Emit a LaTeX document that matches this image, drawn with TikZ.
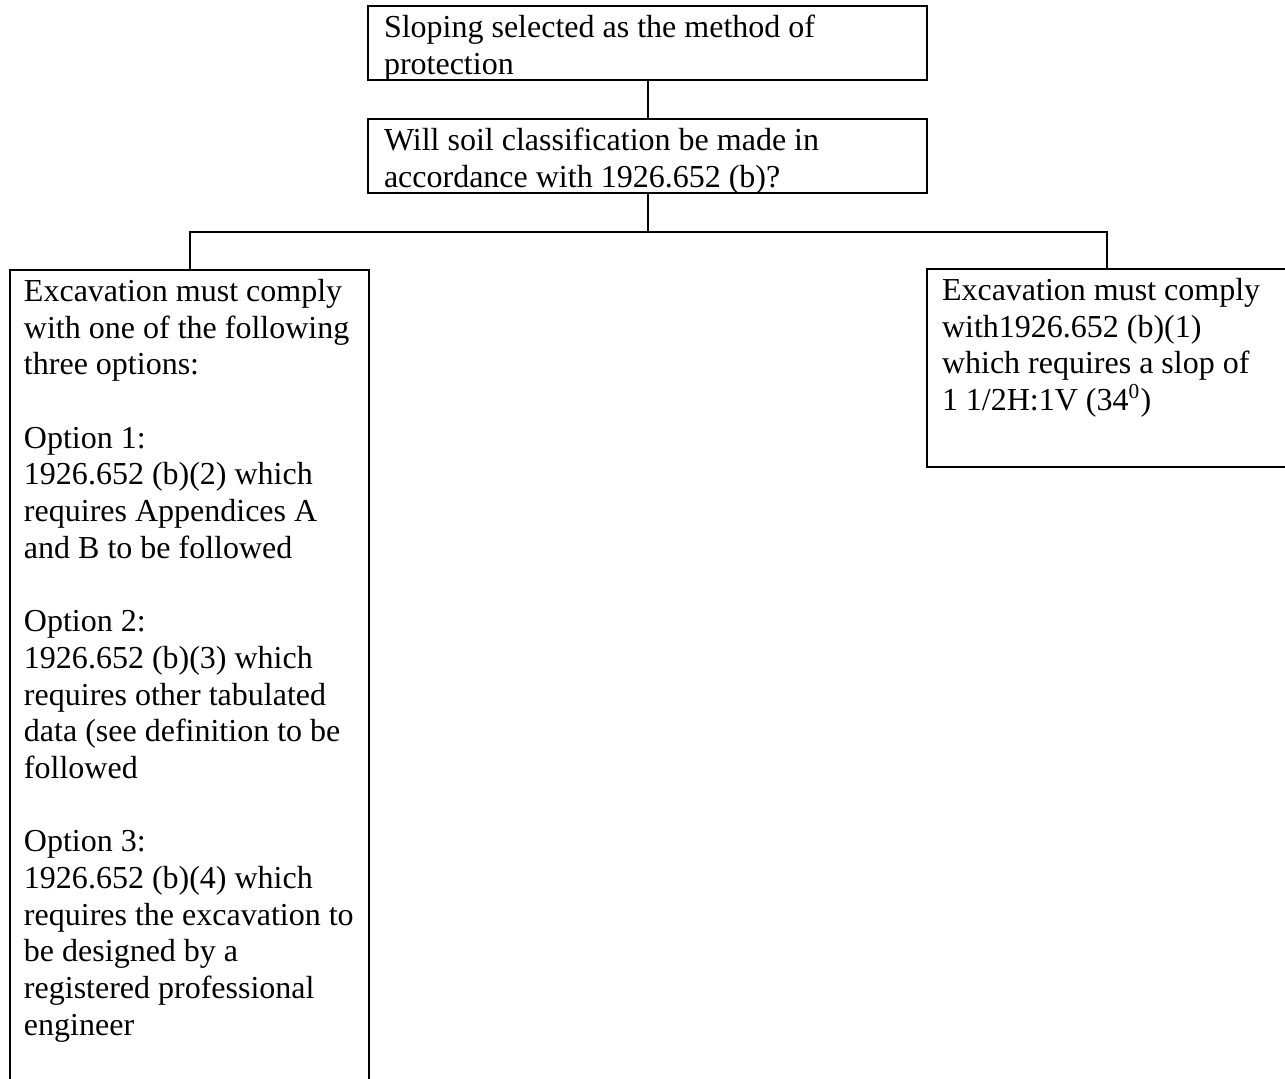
\documentclass[tikz,border=0pt]{standalone}
\usepackage{fontspec}
\setmainfont{Liberation Serif}
\newlength\px
\setlength\px{0.375pt}
% #1 width, #2 height, #3 left padding (all in px), #4 content
\newcommand\boxtext[4]{%
  \parbox[t][#2\px][t]{#1\px}{\raggedright\setlength\leftskip{#3\px}%
    \fontsize{12pt}{13.76pt}\selectfont\rule{0pt}{31.5\px}#4}}
\tikzset{
  flowbox/.style={draw, line width=0.75pt, inner sep=0pt, outer sep=0pt, anchor=north west},
  link/.style={line width=0.75pt}
}
\begin{document}
\begin{tikzpicture}[x=0.375pt,y=-0.375pt]
\useasboundingbox (0,0) rectangle (1285,1078);
\node[flowbox] (start) at (368,6) {\boxtext{559}{74}{16}{Sloping selected as the method of\\protection}};
\node[flowbox] (soil) at (368,119) {\boxtext{559}{74}{16}{Will soil classification be made in\\accordance with 1926.652 (b)?}};
\node[flowbox] (opts) at (10,270) {\boxtext{359}{830}{14}{Excavation must comply\\with one of the following\\three options:\\[13.76pt]Option 1:\\1926.652 (b)(2) which\\requires Appendices A\\and B to be followed\\[13.76pt]Option 2:\\1926.652 (b)(3) which\\requires other tabulated\\data (see definition to be\\followed\\[13.76pt]Option 3:\\1926.652 (b)(4) which\\requires the excavation to\\be designed by a\\registered professional\\engineer}};
\node[flowbox] (slope) at (927,269) {\boxtext{360}{198}{15}{Excavation must comply\\with1926.652 (b)(1)\\which requires a slop of\\1 1/2H:1V (34\textsuperscript{0})}};
\coordinate (split) at (647.5,232);
\draw[link] (start) -- (soil);
\draw[link] (soil) -- (split);
\draw[link] (opts) |- (split) -| (slope);
\end{tikzpicture}
\end{document}
